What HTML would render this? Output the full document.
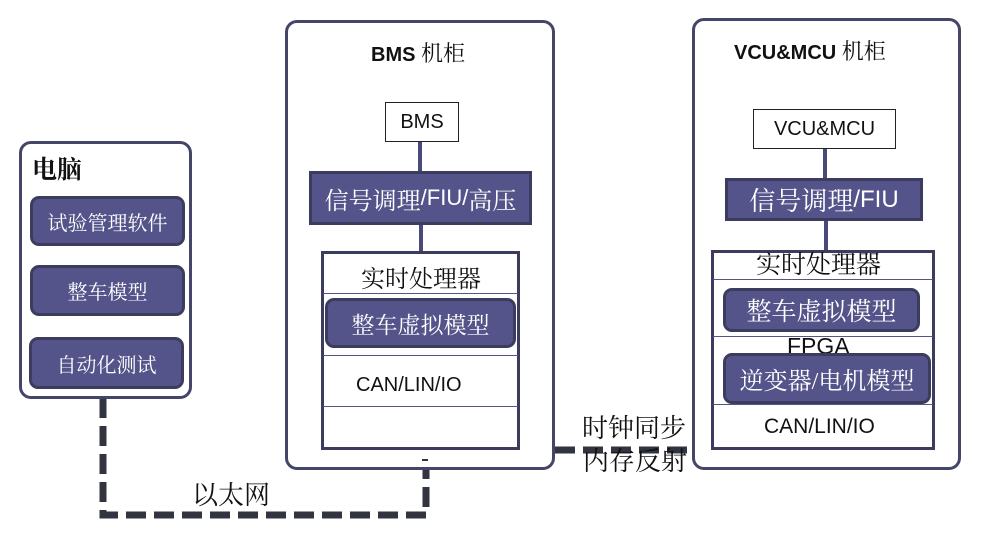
<!DOCTYPE html>
<html><head><meta charset="utf-8"><style>
body{margin:0;width:981px;height:534px;background:#fff;position:relative;overflow:hidden;font-family:"Liberation Sans","Noto Sans CJK SC",sans-serif;}
.a{position:absolute;box-sizing:border-box;}
.cab{border:3px solid #45456a;border-radius:12px;background:#fff;}
.btn{background:#55548a;border:3px solid #3c3c5e;border-radius:9px;color:#fff;font-size:20px;display:flex;align-items:center;justify-content:center;font-family:"Liberation Serif","Noto Serif CJK SC",serif;white-space:nowrap;}
.sq{background:#55548a;border:3px solid #3c3c5e;color:#fff;display:flex;align-items:center;justify-content:center;white-space:nowrap;}
.wb{border:1.5px solid #222;background:#fff;display:flex;align-items:center;justify-content:center;font-size:20px;color:#111;}
.vl{background:#4a4a78;width:4px;}
.hl{height:1px;background:#55548a;}
.t{position:absolute;white-space:nowrap;color:#111;}
.serif{font-family:"Liberation Serif","Noto Serif CJK SC",serif;}
</style></head><body>
<svg class="a" style="left:0;top:0" width="981" height="534">
<g stroke="#323440" stroke-width="7" fill="none" stroke-dasharray="20 8">
<path d="M103 398 V515 H426 V462"/>
<path d="M555 450 H692"/>
</g>
</svg>
<!-- PC -->
<div class="a cab" style="left:19px;top:141px;width:173px;height:258px;"></div>
<div class="t serif" style="left:32px;top:150px;font-size:25px;font-weight:bold;">电脑</div>
<div class="a btn" style="left:30px;top:196px;width:155px;height:50px;">试验管理软件</div>
<div class="a btn" style="left:30px;top:265px;width:155px;height:51px;">整车模型</div>
<div class="a btn" style="left:29px;top:337px;width:155px;height:52px;">自动化测试</div>
<!-- BMS cabinet -->
<div class="a cab" style="left:285px;top:20px;width:270px;height:450px;"></div>
<div class="t" style="left:371px;top:37px;font-size:20px;font-weight:bold;">BMS <span class="serif" style="font-weight:normal;font-size:22px">机柜</span></div>
<div class="a wb" style="left:385px;top:102px;width:74px;height:40px;">BMS</div>
<div class="a vl" style="left:418px;top:142px;height:30px;"></div>
<div class="a sq" style="left:309px;top:171px;width:223px;height:54px;font-size:22px;"><span class="serif" style="font-size:24px">信号调理</span>/FIU/<span class="serif" style="font-size:24px">高压</span></div>
<div class="a vl" style="left:419px;top:225px;height:27px;"></div>
<div class="a" style="left:321px;top:251px;width:199px;height:199px;border:3px solid #3c3c5e;background:#fff;"></div>
<div class="t serif" style="left:361px;top:259px;font-size:24px;">实时处理器</div>
<div class="a hl" style="left:323px;top:293px;width:195px;"></div>
<div class="a btn" style="left:325px;top:298px;width:191px;height:50px;font-size:23px;">整车虚拟模型</div>
<div class="a hl" style="left:323px;top:355px;width:195px;"></div>
<div class="t" style="left:356px;top:374px;font-size:20px;">CAN/LIN/IO</div>
<div class="a hl" style="left:323px;top:406px;width:195px;"></div>
<div class="a" style="left:422px;top:459px;width:6px;height:2px;background:#333;"></div>
<!-- VCU cabinet -->
<div class="a cab" style="left:692px;top:18px;width:269px;height:452px;"></div>
<div class="t" style="left:734px;top:35px;font-size:20px;font-weight:bold;">VCU&amp;MCU <span class="serif" style="font-weight:normal;font-size:22px">机柜</span></div>
<div class="a wb" style="left:753px;top:109px;width:143px;height:40px;">VCU&amp;MCU</div>
<div class="a vl" style="left:823px;top:149px;height:31px;"></div>
<div class="a sq" style="left:725px;top:178px;width:198px;height:43px;font-size:24px;"><span class="serif" style="font-size:26px">信号调理</span>/FIU</div>
<div class="a vl" style="left:824px;top:221px;height:31px;"></div>
<div class="a" style="left:711px;top:250px;width:224px;height:200px;border:3px solid #3c3c5e;background:#fff;"></div>
<div class="t serif" style="left:756px;top:251px;font-size:25px;line-height:30px;">实时处理器</div>
<div class="a hl" style="left:713px;top:279px;width:220px;"></div>
<div class="a btn" style="left:723px;top:288px;width:197px;height:44px;font-size:25px;">整车虚拟模型</div>
<div class="a hl" style="left:713px;top:336px;width:220px;"></div>
<div class="t" style="left:787px;top:333px;font-size:23px;">FPGA</div>
<div class="a btn" style="left:723px;top:353px;width:208px;height:51px;font-size:24px;">逆变器/电机模型</div>
<div class="a hl" style="left:713px;top:404px;width:220px;"></div>
<div class="t" style="left:764px;top:415px;font-size:21px;">CAN/LIN/IO</div>
<!-- labels -->
<div class="t serif" style="left:582px;top:415px;font-size:26px;line-height:28px;">时钟同步</div>
<div class="t serif" style="left:583px;top:448px;font-size:26px;line-height:28px;">内存反射</div>
<div class="t serif" style="left:192px;top:482px;font-size:26px;line-height:28px;">以太网</div>
</body></html>
